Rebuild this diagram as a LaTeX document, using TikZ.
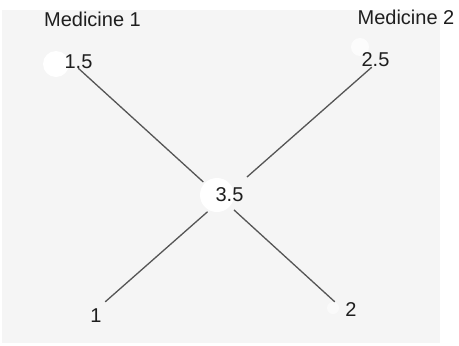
\documentclass[tikz,border=0pt]{standalone}
\usepackage{fontspec}
\setmainfont{Liberation Sans}
\definecolor{bgcol}{RGB}{245,245,245}
\definecolor{linecol}{RGB}{85,85,85}
\definecolor{txtcol}{RGB}{30,30,30}
\tikzset{
  lbl/.style={inner sep=0pt, text=txtcol, font=\fontsize{20bp}{24bp}\selectfont},
  blob/.style={circle, fill=white, draw=none, inner sep=0pt},
  edge/.style={draw=linecol, line width=1.3bp},
  pt/.style={inner sep=0pt, minimum size=0pt}
}
\begin{document}
\begin{tikzpicture}[x=1bp, y=-1bp]
\useasboundingbox (0,0) rectangle (459,345);
\fill[white] (0,0) rectangle (459,345);
\fill[bgcol] (2,10) rectangle (440,343);
% white blobs
\node[blob, minimum size=26bp] (b15) at (56,64) {};
\node[blob, minimum size=34bp] (b35) at (217,195) {};
\node[blob, minimum size=18bp, fill opacity=0.7] (b25) at (360,47) {};
\node[blob, minimum size=12bp, fill opacity=0.5] (b2) at (333,308) {};
% connector end points
\node[pt] (n15) at (78,68) {};
\node[pt] (n25) at (372,67) {};
\node[pt] (n1) at (105,302) {};
\node[pt] (n2) at (335,302) {};
\node[pt] (c) at (222,199) {};
% connectors
\draw[edge, shorten >=25bp] (n15) -- (c);
\draw[edge, shorten <=16bp] (c) -- (n2);
\draw[edge, shorten >=33bp] (n25) -- (c);
\draw[edge, shorten <=19bp] (c) -- (n1);
% labels
\node[lbl] (m1) at (92.5,19.5) {Medicine 1};
\node[lbl] (m2) at (406,17) {Medicine 2};
\node[lbl] (t15) at (78.5,61.5) {1.5};
\node[lbl] (t25) at (375.5,59.5) {2.5};
\node[lbl] (t35) at (229.5,195) {3.5};
\node[lbl] (t1) at (96,315.5) {1};
\node[lbl] (t2) at (351,310) {2};
\end{tikzpicture}
\end{document}
